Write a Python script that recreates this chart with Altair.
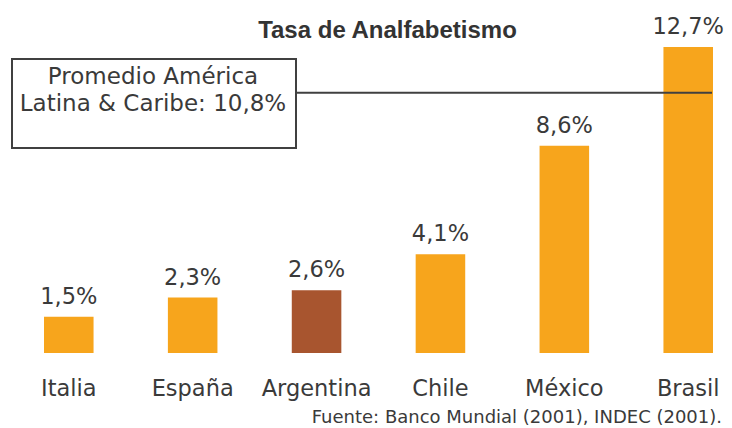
import altair as alt
import pandas as pd

paises = ["Italia", "España", "Argentina", "Chile", "México", "Brasil"]
tasas = [1.5, 2.3, 2.6, 4.1, 8.6, 12.7]
etiquetas = ["1,5%", "2,3%", "2,6%", "4,1%", "8,6%", "12,7%"]
destacado = ["no", "no", "si", "no", "no", "no"]
promedio = 10.8
promedio_texto = "Promedio América\nLatina & Caribe: 10,8%"
titulo = "Tasa de Analfabetismo"
fuente = "Fuente: Banco Mundial (2001), INDEC (2001)."

df = pd.DataFrame({"pais": paises, "tasa": tasas, "etiqueta": etiquetas, "destacado": destacado})
df_prom = pd.DataFrame({"v": [promedio], "texto": [promedio_texto]})
df_fuente = pd.DataFrame({"texto": [fuente]})
df_titulo = pd.DataFrame({"texto": [titulo]})

FONT = "DejaVu Sans"
TXT = "#3a3a3a"

x_enc = alt.X("pais:N", sort=paises,
              scale=alt.Scale(paddingInner=0.6, paddingOuter=0),
              axis=alt.Axis(title=None, domain=False, ticks=False, labelAngle=0,
                            labelFont=FONT, labelFontSize=22.5, labelColor=TXT,
                            labelPadding=24))
y_scale = alt.Scale(domain=[0, 12.7], nice=False, zero=True)

base = alt.Chart(df)

bars = base.mark_bar().encode(
    x=x_enc,
    y=alt.Y("tasa:Q", scale=y_scale, axis=None),
    color=alt.Color("destacado:N", scale=alt.Scale(domain=["no", "si"], range=["#F7A51C", "#A8552F"]), legend=None),
)

labels = base.mark_text(baseline="alphabetic", dy=-13, font=FONT, fontSize=22.5, color=TXT).encode(
    x=alt.X("pais:N", sort=paises),
    y=alt.Y("tasa:Q", scale=y_scale),
    text="etiqueta:N",
)

rule = alt.Chart(df_prom).mark_rule(color="#404040", strokeWidth=2).encode(
    y=alt.Y("v:Q", scale=y_scale),
    x=alt.value(252),
    x2=alt.value(668),
)

box = alt.Chart(df_prom).mark_rect(fill="white", stroke="#404040", strokeWidth=2).encode(
    x=alt.value(-32), x2=alt.value(252), y=alt.value(12), y2=alt.value(101)
)

box_text = alt.Chart(df_prom).mark_text(
    lineBreak="\n", lineHeight=27, baseline="alphabetic", align="center",
    font=FONT, fontSize=23, color=TXT
).encode(x=alt.value(109), y=alt.value(37), text="texto:N")

foot = alt.Chart(df_fuente).mark_text(
    baseline="alphabetic", align="right", font=FONT, fontSize=18, color=TXT
).encode(x=alt.value(678), y=alt.value(376), text="texto:N")

title_mark = alt.Chart(df_titulo).mark_text(
    baseline="alphabetic", align="center", font="Liberation Sans", fontWeight="bold",
    fontSize=24, color="#333333"
).encode(x=alt.value(343.5), y=alt.value(-9), text="texto:N")

chart = alt.layer(bars, labels, rule, box, box_text, foot, title_mark).properties(
    width=669, height=306,
    autosize=alt.AutoSizeParams(type="none"),
    padding={"left": 36, "top": 39, "right": 11, "bottom": 73},
).configure_view(stroke=None)

chart.save("out.html", embed_options={"renderer": "svg", "actions": False})
